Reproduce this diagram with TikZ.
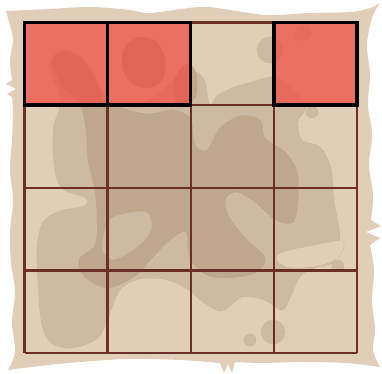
\documentclass[tikz,border=0pt]{standalone}
\usepackage{xcolor}
\definecolor{mapparch}{RGB}{224,206,185}
\definecolor{mapland}{RGB}{206,185,162}
\definecolor{mapdark}{RGB}{191,167,141}
\definecolor{mapgrid}{RGB}{110,46,40}
\definecolor{mapred}{RGB}{240,80,70}
\usepackage{tikz}

\begin{document}
\begin{tikzpicture}[x=0.02cm, y=-0.02cm,
  landblob/.style={fill=mapland, draw=mapland!88!black, line width=0.3pt, densely dotted},
  darkblob/.style={fill=mapdark, draw=mapdark!88!black, line width=0.3pt, densely dotted},
  bareblob/.style={fill=mapparch, draw=mapland!88!black, line width=0.3pt, densely dotted},
  gridline/.style={mapgrid, line width=1.3pt},
  hitcell/.style={fill=mapred, fill opacity=0.75},
  hitborder/.style={draw=black, line width=2pt}]
  \useasboundingbox (0,0) rectangle (382,374);

  % Parchment sheet
  \fill[mapparch] plot[smooth, tension=0.6] coordinates {(6,11) (50,9) (90,7) (130,10) (150,13) (200,7) (230,10) (267,15) (310,13) (350,12) (370,8) (380,3)}
    -- plot[smooth, tension=0.6] coordinates {(380,3) (372,18) (367,45) (370,75) (368,105) (372,135) (369,165) (373,195) (371,220)}
    -- (381,226) -- (366,232) -- (380,238)
    -- plot[smooth, tension=0.6] coordinates {(370,245) (374,270) (372,300) (375,330) (373,350) (380,367)}
    -- plot[smooth, tension=0.6] coordinates {(380,367) (345,363) (300,362) (262,363) (235,362)}
    -- (232,373) -- (228,364) -- (224,373)
    -- plot[smooth, tension=0.6] coordinates {(220,363) (180,360) (130,359) (80,362) (40,366) (8,370)}
    -- plot[smooth, tension=0.6] coordinates {(8,370) (15,352) (12,322) (15,292) (11,262) (10,232) (13,200) (10,170) (12,140) (13,112) (12,97)}
    -- (7,94) -- (16,89) -- (6,84)
    -- plot[smooth, tension=0.6] coordinates {(12,80) (10,60) (13,40) (9,22) (6,11)}
    -- cycle;

  % --- Land masses ---
  \draw[landblob] plot[smooth cycle, tension=0.55] coordinates {
    (50,62) (62,50) (80,56) (95,76) (106,98) (125,104) (148,100) (168,86) (184,68)
    (197,72) (205,82) (210,106) (217,96) (232,88) (252,82) (272,77) (288,84) (300,98)
    (306,108) (298,122) (302,140) (320,147) (331,168) (334,200) (340,238) (334,262)
    (314,268) (300,277) (290,298) (282,310) (264,300) (242,297) (222,311) (203,302)
    (187,289) (168,280) (140,279) (120,290) (108,318) (98,338) (72,348) (50,342)
    (41,320) (38,282) (37,248) (43,222) (60,211) (84,206) (86,198) (64,190) (56,176)
    (53,150) (54,125) (60,106) (58,90) (52,76)};
  \draw[darkblob] plot[smooth cycle, tension=0.55] coordinates {
    (52,62) (63,52) (80,58) (95,78) (103,100) (122,108) (148,114) (172,110) (190,118)
    (195,145) (207,150) (220,128) (240,116) (260,120) (265,138) (285,152) (297,172)
    (298,200) (293,222) (276,220) (255,202) (237,192) (226,198) (228,215) (245,238)
    (265,258) (255,273) (225,278) (205,274) (190,258) (186,232) (170,240) (152,258)
    (135,276) (108,288) (85,277) (79,260) (95,245) (97,220) (95,190) (88,160) (86,130)
    (80,105) (62,85)};
  \draw[darkblob] plot[smooth cycle, tension=0.55] coordinates {
    (125,47) (140,37) (157,42) (165,60) (162,80) (147,88) (130,82) (122,65)};
  \draw[darkblob] plot[smooth cycle, tension=0.55] coordinates {
    (176,76) (188,64) (196,74) (195,98) (176,102)};
  \draw[landblob] plot[smooth cycle, tension=0.55] coordinates {
    (108,222) (122,214) (146,212) (152,226) (145,240) (130,252) (112,260) (102,248)};
  \draw[bareblob] plot[smooth cycle, tension=0.55] coordinates {
    (277,255) (290,250) (315,245) (343,241) (338,258) (318,266) (292,268) (279,263)};

  % Islands
  \draw[landblob] (270,50) circle (13);
  \draw[landblob] (303,33) circle (8);
  \draw[landblob] (312,112) circle (6);
  \draw[landblob] (338,266) circle (6);
  \draw[landblob] (273,332) circle (12);
  \draw[landblob] (250,340) circle (6);

  % --- Marked cells ---
  \fill[hitcell] (24.5,22.5) rectangle (107.6,105);
  \fill[hitcell] (107.6,22.5) rectangle (190.7,105);
  \fill[hitcell] (273.8,22.5) rectangle (357,105);

  % Grid
  \draw[gridline] (24.5,22.5) -- (24.5,353);
  \draw[gridline] (107.6,22.5) -- (107.6,353);
  \draw[gridline] (190.7,22.5) -- (190.7,353);
  \draw[gridline] (273.8,22.5) -- (273.8,353);
  \draw[gridline] (357,22.5) -- (357,353);
  \draw[gridline] (24.5,22.5) -- (357,22.5);
  \draw[gridline] (24.5,105) -- (357,105);
  \draw[gridline] (24.5,188) -- (357,188);
  \draw[gridline] (24.5,270.5) -- (357,270.5);
  \draw[gridline] (24.5,353) -- (357,353);

  % Borders of marked cells
  \draw[hitborder] (24.5,22.5) rectangle (107.6,105);
  \draw[hitborder] (107.6,22.5) rectangle (190.7,105);
  \draw[hitborder] (273.8,22.5) rectangle (357,105);
\end{tikzpicture}
\end{document}
